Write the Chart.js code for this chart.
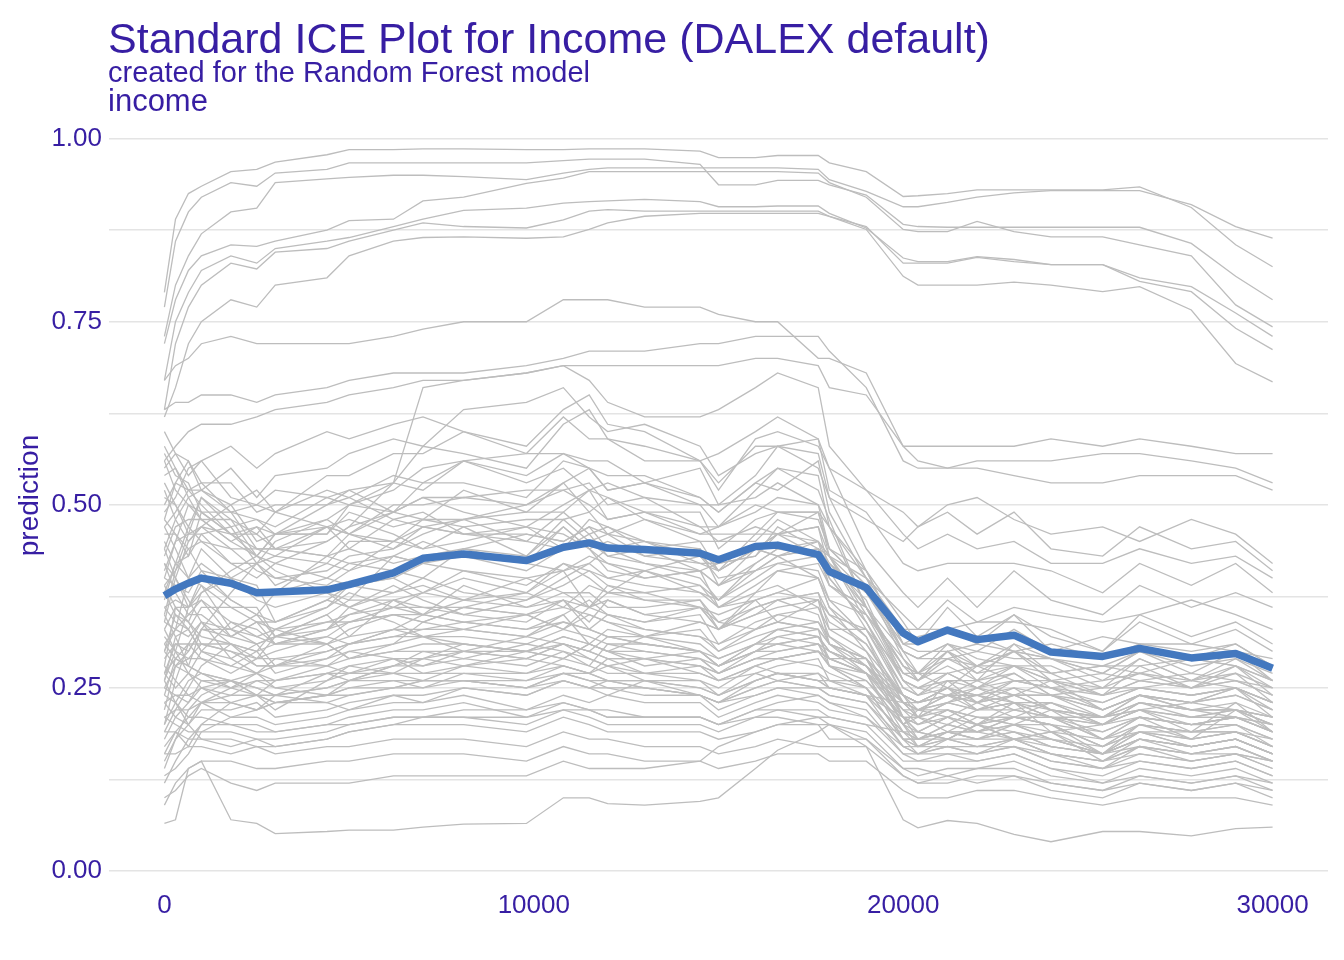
<!DOCTYPE html>
<html lang="en">
<head>
  <meta charset="UTF-8" />
  <title>Standard ICE Plot for Income (DALEX default)</title>
  <script src="https://cdn.jsdelivr.net/npm/chart.js"></script>
  <style>
    body {
      margin: 0; padding: 0; background: #fff;
      font-family: Arial, "Liberation Sans", sans-serif;
    }
    .wrap { position: relative; width: 1344px; height: 960px; }
    .title, .subtitle, .facet {
      position: absolute; left: 108px; margin: 0; color: #371ea3; white-space: nowrap; font-weight: normal;
    }
    .title { top: 17px; font-size: 43px; line-height: 43px; }
    .subtitle { top: 58px; font-size: 29px; line-height: 29px; }
    .facet { top: 85px; font-size: 31px; line-height: 31px; }
    canvas { position: absolute; left: 0; top: 0; }
  </style>
</head>
<body>
  <div class="wrap">
    <canvas id="ice" width="1344" height="960"></canvas>
    <h1 class="title">Standard ICE Plot for Income (DALEX default)</h1>
    <div class="subtitle">created for the Random Forest model</div>
    <div class="facet">income</div>
  </div>

  <script>
    // income values where the profiles were evaluated
    const incomeGrid = [0, 300, 650, 1000, 1800, 2500, 3000, 4400, 5000, 6200,
      7000, 8100, 9800, 10800, 11500, 12000, 13000, 14500, 15000, 16000,
      16600, 17700, 18000, 19000, 20000, 20400, 21200, 22000, 23000, 24000,
      25400, 26400, 27800, 29000, 30000];

    // average profile (blue)
    const meanProfile = [.376,.385,.393,.400,.393, .380,.381,.384,.391,.407,
      .427,.433,.424,.442,.448, .441,.439,.434,.425,.443,
      .445,.432,.409,.387,.325, .313,.329,.316,.322,.299,
      .293,.304,.291,.297,.277];

    // individual observations (grey)
    const iceProfiles = [
      // high group
      [.79,.89,.925,.935,.955, .958,.968,.978,.985,.985, .986,.986,.985,.985,.986, .986,.986,.983,.974,.974, .977,.977,.967,.955,.921, .922,.925,.930,.930,.930, .930,.934,.906,.855,.825],
      [.77,.86,.90,.92,.94, .935,.953,.958,.967,.967, .967,.967,.967,.970,.972, .972,.972,.965,.937,.937, .943,.943,.937,.923,.883, .880,.879,.879,.879,.879, .879,.879,.857,.812,.780],
      [.73,.80,.84,.87,.90, .905,.94,.945,.947,.950, .950,.948,.944,.953,.958, .960,.960,.960,.960,.960, .960,.958,.944,.928,.907, .907,.913,.920,.926,.929, .929,.929,.910,.880,.864],
      [.72,.78,.82,.84,.855, .853,.86,.875,.888,.89, .915,.92,.939,.946,.955, .955,.955,.955,.955,.955, .955,.953,.940,.920,.876, .873,.873,.887,.873,.866, .866,.855,.840,.773,.743],
      [.67,.75,.79,.82,.84, .83,.85,.86,.865,.88, .89,.902,.905,.912,.914, .915,.917,.914,.907,.907, .908,.908,.898,.878,.837, .832,.832,.839,.835,.828, .828,.81,.798,.762,.730],
      [.63,.72,.77,.80,.83, .822,.845,.85,.86,.875, .885,.880,.878,.889,.901, .903,.901,.901,.901,.901, .901,.901,.894,.88,.83, .830,.830,.838,.832,.828, .828,.805,.791,.741,.712],
      [.62,.66,.72,.75,.78, .77,.80,.81,.84,.86, .865,.866,.864,.866,.876, .885,.894,.898,.898,.898, .898,.898,.894,.876,.812, .800,.800,.800,.804,.800, .791,.798,.766,.693,.668],
      // middle group
      [.67,.69,.70,.72,.73, .72,.72,.72,.72,.73, .74,.75,.75,.78,.78, .78,.77,.77,.76,.75, .75,.70,.70,.68,.58, .58,.58,.58,.58,.59, .58,.59,.58,.57,.57],
      [.63,.64,.64,.65,.65, .64,.65,.66,.67,.68, .68,.68,.69,.70,.71, .71,.71,.72,.72,.73, .73,.73,.71,.66,.56, .55,.55,.56,.56,.56, .57,.57,.56,.55,.53],
      [.56,.58,.60,.61,.61, .62,.63,.64,.65,.66, .67,.67,.68,.69,.69, .69,.69,.69,.69,.70, .70,.69,.66,.65,.58, .56,.55,.55,.54,.53, .53,.54,.54,.54,.52],
      [.34,.40,.45,.47,.46, .44,.44,.45,.47,.53, .66,.67,.68,.69,.67, .64,.62,.62,.63,.66, .68,.66,.58,.52,.46, .44,.46,.44,.45,.42, .42,.44,.42,.43,.40],
      // bulk, upper part
      [.55,.57,.54,.56,.58, .55,.57,.60,.59,.61, .62,.60,.58,.63,.65, .61,.60,.56,.57,.60, .62,.59,.55,.52,.49, .47,.50,.51,.48,.46, .47,.45,.48,.46,.42],
      [.50,.53,.56,.52,.55, .51,.54,.55,.57,.59, .58,.63,.64,.66,.62, .60,.61,.58,.54,.57, .58,.55,.51,.48,.45, .47,.49,.46,.49,.44, .43,.47,.44,.45,.41],
      [.47,.49,.52,.53,.49, .48,.46,.50,.52,.53, .58,.57,.55,.61,.63, .59,.58,.56,.52,.59, .60,.58,.55,.44,.38, .36,.40,.36,.41,.37, .35,.39,.36,.38,.36],
      [.53,.50,.47,.51,.48, .46,.49,.52,.51,.54, .53,.56,.57,.57,.56, .56,.53,.55,.50,.54, .58,.57,.51,.41,.31, .32,.33,.31,.35,.32, .30,.35,.32,.34,.31],
      [.44,.48,.51,.52,.50, .45,.46,.46,.50,.49, .53,.53,.51,.56,.55, .54,.54,.51,.49,.53, .52,.56,.49,.40,.35, .33,.37,.34,.36,.35, .34,.35,.37,.35,.33],
      [.41,.45,.46,.51,.47, .48,.47,.51,.50,.53, .52,.56,.53,.55,.52, .53,.51,.50,.47,.52, .55,.52,.48,.36,.28, .26,.30,.26,.31,.27, .28,.28,.29,.28,.26],
      [.49,.51,.55,.56,.51, .50,.52,.51,.52,.49, .51,.51,.52,.52,.53, .50,.51,.47,.47,.49, .51,.50,.44,.39,.30, .27,.31,.29,.28,.28, .25,.29,.26,.28,.25],
      [.37,.42,.43,.49,.46, .46,.44,.47,.46,.49, .48,.52,.49,.53,.55, .52,.53,.50,.50,.51, .53,.50,.47,.41,.34, .31,.36,.32,.35,.30, .32,.31,.31,.30,.29],
      [.56,.52,.50,.49,.46, .47,.46,.47,.46,.50, .50,.51,.50,.53,.49, .51,.49,.49,.44,.48, .49,.49,.43,.40,.33, .33,.33,.34,.34,.33, .30,.34,.31,.33,.30],
      [.43,.47,.48,.48,.48, .43,.46,.46,.49,.47, .48,.48,.49,.49,.52, .48,.49,.46,.46,.46, .49,.49,.47,.36,.26, .25,.26,.26,.27,.24, .25,.25,.26,.25,.23],
      [.39,.41,.46,.46,.47, .42,.43,.42,.45,.45, .48,.47,.48,.48,.49, .46,.48,.45,.45,.45, .48,.45,.43,.34,.24, .21,.26,.23,.24,.24, .21,.24,.22,.22,.21],
      [.51,.50,.46,.47,.44, .44,.43,.47,.44,.48, .47,.48,.45,.49,.46, .47,.44,.45,.41,.46, .46,.49,.44,.41,.31, .30,.30,.31,.30,.29, .27,.30,.27,.30,.26],
      [.57,.54,.53,.49,.49, .44,.44,.43,.46,.45, .47,.46,.46,.45,.47, .44,.45,.42,.42,.43, .47,.44,.43,.35,.29, .26,.30,.27,.30,.26, .27,.26,.27,.26,.25],
      [.46,.46,.43,.46,.42, .42,.39,.42,.41,.45, .44,.47,.43,.48,.45, .46,.43,.44,.39,.44, .43,.44,.39,.36,.27, .27,.27,.28,.28,.27, .24,.28,.25,.28,.24],
      [.60,.57,.56,.53,.53, .49,.50,.50,.51,.48, .49,.46,.47,.44,.45, .43,.44,.41,.42,.43, .46,.43,.42,.36,.30, .29,.29,.30,.29,.29, .26,.29,.26,.29,.26],
      [.48,.53,.52,.52,.49, .50,.49,.54,.54,.57, .57,.60,.57,.62,.59, .59,.56,.56,.53,.58, .58,.59,.52,.49,.42, .41,.42,.42,.42,.41, .38,.42,.39,.42,.38],
      // bulk, middle part
      [.35,.41,.44,.45,.44, .41,.40,.41,.43,.44, .47,.46,.45,.44,.48, .47,.45,.44,.41,.44, .46,.47,.41,.33,.24, .22,.23,.25,.23,.22, .21,.24,.22,.21,.20],
      [.31,.33,.40,.42,.39, .38,.38,.43,.42,.41, .40,.44,.43,.47,.44, .42,.41,.43,.40,.41, .43,.40,.37,.32,.23, .21,.22,.20,.23,.19, .20,.21,.18,.22,.19],
      [.45,.42,.40,.44,.40, .37,.36,.38,.37,.43, .42,.41,.40,.41,.42, .40,.41,.38,.37,.40, .42,.41,.37,.35,.28, .27,.25,.28,.26,.25, .24,.26,.25,.27,.23],
      [.28,.36,.34,.38,.40, .39,.34,.36,.39,.40, .38,.41,.39,.42,.40, .38,.38,.39,.36,.37, .38,.40,.36,.30,.21, .18,.20,.19,.21,.20, .17,.20,.19,.20,.18],
      [.40,.39,.38,.41,.37, .35,.34,.37,.36,.38, .39,.37,.38,.41,.36, .39,.37,.37,.33,.38, .39,.36,.33,.33,.25, .24,.25,.23,.26,.25, .22,.24,.23,.25,.21],
      [.36,.37,.36,.39,.36, .36,.32,.35,.37,.37, .35,.39,.36,.38,.38, .36,.36,.37,.34,.36, .37,.35,.31,.29,.20, .22,.22,.21,.20,.22, .18,.21,.20,.20,.18],
      [.26,.32,.33,.36,.36, .34,.34,.37,.39,.40, .42,.43,.42,.47,.44, .41,.40,.41,.36,.38, .41,.42,.39,.35,.26, .25,.24,.26,.24,.26, .22,.24,.23,.25,.22],
      [.42,.40,.37,.34,.33, .31,.32,.35,.32,.37, .36,.36,.35,.37,.34, .37,.35,.34,.33,.37, .34,.37,.31,.29,.23, .21,.23,.22,.23,.21, .20,.22,.19,.23,.19],
      [.33,.36,.36,.37,.32, .34,.31,.32,.34,.36, .38,.40,.38,.42,.41, .40,.39,.38,.36,.39, .41,.40,.36,.32,.21, .19,.21,.19,.21,.20, .16,.20,.18,.19,.17],
      [.38,.35,.34,.32,.31, .30,.31,.33,.35,.37, .38,.37,.36,.37,.36, .35,.34,.35,.31,.34, .35,.34,.31,.29,.20, .17,.19,.19,.18,.19, .16,.18,.17,.18,.16],
      [.30,.33,.35,.35,.32, .34,.33,.34,.35,.36, .36,.35,.34,.37,.33, .35,.33,.32,.30,.33, .34,.33,.31,.27,.22, .21,.20,.22,.22,.21, .19,.21,.20,.21,.19],
      [.47,.44,.40,.39,.33, .35,.32,.34,.34,.35, .35,.34,.33,.34,.33, .32,.32,.33,.30,.32, .33,.32,.30,.28,.23, .22,.21,.23,.21,.23, .20,.22,.21,.21,.20],
      [.24,.29,.28,.33,.32, .31,.32,.33,.34,.35, .34,.33,.32,.35,.31, .33,.32,.31,.29,.31, .32,.33,.28,.27,.19, .17,.19,.18,.19,.17, .16,.19,.17,.18,.16],
      [.34,.33,.32,.34,.29, .31,.28,.30,.31,.32, .33,.33,.32,.34,.33, .32,.31,.30,.28,.31, .33,.34,.32,.28,.22, .20,.21,.20,.21,.21, .18,.20,.19,.20,.17],
      [.29,.31,.31,.31,.30, .28,.28,.31,.29,.30, .31,.31,.30,.32,.31, .30,.30,.29,.28,.30, .31,.30,.29,.27,.24, .23,.24,.23,.25,.22, .21,.23,.22,.23,.21],
      [.39,.36,.34,.31,.31, .28,.28,.29,.30,.31, .32,.32,.31,.33,.32, .31,.31,.30,.29,.31, .31,.32,.29,.29,.21, .19,.21,.20,.21,.20, .17,.20,.19,.19,.17],
      [.27,.31,.30,.33,.33, .32,.31,.31,.32,.33, .33,.34,.35,.36,.35, .34,.33,.32,.31,.33, .34,.33,.31,.28,.20, .18,.18,.20,.18,.19, .15,.18,.16,.17,.15],
      [.32,.30,.29,.29,.28, .27,.28,.28,.29,.30, .30,.30,.29,.31,.30, .29,.29,.28,.27,.29, .29,.30,.28,.26,.20, .19,.18,.20,.19,.18, .16,.19,.17,.18,.16],
      [.22,.28,.29,.31,.30, .29,.29,.30,.31,.32, .32,.31,.30,.32,.31, .30,.29,.30,.28,.30, .30,.31,.28,.25,.18, .16,.17,.16,.18,.16, .14,.17,.16,.16,.15],
      [.36,.34,.33,.30,.29, .27,.26,.27,.28,.29, .29,.30,.30,.31,.30, .29,.29,.28,.27,.29, .29,.30,.28,.25,.20, .21,.19,.21,.20,.20, .17,.19,.18,.19,.17],
      // bulk, wandering ones
      [.25,.28,.30,.33,.38, .42,.45,.48,.50,.52, .55,.56,.54,.57,.55, .52,.53,.51,.49,.53, .55,.54,.47,.40,.30, .29,.31,.28,.30,.27, .28,.27,.29,.28,.26],
      [.54,.55,.52,.50,.46, .43,.42,.40,.39,.38, .40,.38,.37,.39,.41, .39,.38,.36,.35,.37, .38,.37,.34,.31,.24, .23,.25,.22,.24,.22, .21,.23,.22,.22,.20],
      [.30,.35,.33,.30,.28, .30,.33,.36,.38,.36, .35,.37,.40,.38,.36, .38,.41,.39,.37,.42, .44,.45,.43,.36,.27, .26,.29,.28,.30,.29, .28,.30,.29,.31,.28],
      [.44,.40,.36,.38,.41, .43,.41,.38,.36,.34, .32,.33,.35,.33,.36, .37,.35,.36,.34,.33, .35,.36,.32,.29,.24, .23,.24,.24,.23,.23, .21,.22,.23,.22,.21],
      [.20,.26,.31,.29,.27, .29,.32,.31,.29,.31, .34,.36,.35,.33,.35, .34,.32,.34,.33,.35, .37,.38,.35,.33,.27, .26,.28,.26,.28,.25, .26,.27,.25,.26,.24],
      [.52,.48,.45,.47,.50, .52,.49,.47,.48,.46, .44,.45,.47,.46,.44, .45,.43,.42,.41,.44, .43,.45,.42,.38,.31, .31,.33,.32,.30,.31, .29,.30,.29,.30,.28],
      [.38,.42,.47,.45,.42, .40,.42,.45,.47,.49, .51,.49,.47,.50,.52, .51,.48,.46,.47,.50, .49,.48,.44,.39,.29, .27,.30,.28,.31,.29, .27,.30,.28,.29,.27],
      [.27,.25,.27,.30,.34, .33,.31,.33,.36,.39, .37,.35,.37,.40,.42, .44,.42,.40,.37,.41, .43,.44,.42,.37,.26, .24,.27,.25,.26,.26, .24,.25,.24,.25,.23],
      [.14,.18,.22,.24,.26, .24,.22,.26,.28,.27, .29,.31,.30,.29,.31, .30,.32,.30,.28,.31, .33,.32,.30,.28,.22, .22,.23,.24,.22,.23, .20,.23,.22,.22,.21],
      [.33,.30,.27,.25,.24, .26,.25,.24,.26,.28, .30,.29,.31,.30,.28, .31,.30,.29,.27,.30, .32,.31,.29,.27,.21, .20,.22,.20,.22,.21, .18,.21,.20,.21,.19],
      [.48,.46,.44,.41,.40, .42,.40,.39,.41,.43, .45,.43,.41,.44,.46, .43,.42,.41,.39,.42, .44,.43,.40,.34,.26, .25,.27,.25,.28,.26, .24,.26,.25,.26,.24],
      [.40,.45,.50,.48,.45, .43,.46,.48,.46,.44, .46,.48,.50,.52,.50, .48,.49,.47,.45,.47, .46,.47,.43,.38,.30, .29,.31,.30,.33,.30, .29,.31,.30,.31,.28],
      [.23,.21,.20,.23,.25, .27,.29,.28,.27,.29, .28,.30,.32,.31,.29, .28,.29,.27,.26,.28, .29,.30,.29,.27,.23, .22,.24,.23,.24,.22, .20,.23,.21,.22,.20],
      [.31,.29,.31,.34,.31, .29,.30,.32,.31,.33, .35,.34,.33,.35,.37, .35,.34,.36,.33,.35, .36,.37,.35,.31,.23, .22,.24,.22,.23,.21, .20,.22,.20,.21,.19],
      [.19,.22,.25,.28,.31, .30,.27,.29,.31,.33, .32,.30,.29,.31,.30, .32,.31,.30,.28,.30, .31,.32,.30,.27,.18, .18,.19,.18,.20,.18, .16,.18,.17,.18,.16],
      [.58,.55,.51,.48,.45, .47,.44,.43,.44,.42, .43,.44,.42,.41,.43, .42,.40,.41,.39,.41, .42,.43,.39,.36,.28, .27,.29,.27,.28,.26, .25,.27,.26,.27,.25],
      [.42,.38,.35,.37,.34, .32,.33,.31,.33,.35, .34,.36,.38,.36,.39, .38,.37,.36,.33,.36, .37,.38,.33,.30,.24, .23,.25,.24,.25,.24, .22,.24,.23,.24,.22],
      [.26,.30,.36,.40,.37, .35,.38,.40,.42,.43, .42,.44,.46,.45,.47, .46,.45,.43,.41,.44, .46,.45,.40,.34,.25, .24,.26,.25,.27,.24, .23,.25,.24,.25,.23],
      [.16,.19,.17,.20,.23, .22,.24,.23,.22,.24, .23,.25,.24,.26,.25, .24,.26,.24,.23,.26, .27,.26,.25,.24,.19, .18,.20,.19,.20,.18, .17,.19,.18,.19,.17],
      [.35,.32,.28,.27,.26, .24,.26,.28,.30,.29, .27,.28,.30,.29,.31, .30,.28,.29,.27,.29, .30,.31,.30,.28,.24, .23,.25,.24,.26,.25, .23,.25,.24,.25,.23],
      // bulk, lower part
      [.27,.29,.28,.27,.26, .27,.25,.26,.27,.28, .28,.29,.28,.30,.29, .28,.27,.28,.26,.28, .29,.28,.27,.25,.18, .18,.19,.18,.18,.17, .16,.18,.17,.18,.16],
      [.25,.24,.23,.25,.26, .25,.24,.27,.26,.28, .29,.28,.29,.28,.27, .29,.27,.27,.26,.27, .28,.29,.26,.26,.21, .20,.22,.21,.21,.20, .19,.21,.20,.21,.19],
      [.20,.23,.26,.27,.25, .26,.26,.27,.27,.27, .26,.28,.27,.29,.28, .27,.27,.26,.25,.28, .27,.27,.26,.25,.18, .17,.18,.17,.17,.16, .15,.17,.15,.16,.15],
      [.30,.28,.27,.26,.25, .24,.24,.25,.26,.27, .27,.27,.26,.28,.27, .26,.26,.25,.24,.27, .26,.27,.25,.24,.19, .19,.18,.20,.18,.18, .16,.18,.17,.18,.16],
      [.18,.21,.23,.26,.26, .25,.24,.25,.26,.26, .25,.27,.27,.28,.27, .28,.26,.26,.24,.26, .27,.26,.25,.24,.17, .16,.17,.16,.17,.15, .14,.16,.15,.16,.14],
      [.23,.24,.24,.25,.23, .24,.23,.24,.24,.25, .26,.26,.25,.27,.26, .26,.25,.24,.23,.25, .26,.25,.24,.23,.17, .17,.17,.17,.18,.16, .15,.17,.16,.17,.15],
      [.28,.26,.24,.23,.23, .22,.23,.23,.24,.25, .25,.26,.25,.26,.25, .26,.25,.24,.23,.24, .25,.25,.24,.23,.18, .17,.18,.18,.19,.17, .16,.17,.16,.17,.15],
      [.15,.18,.20,.22,.22, .23,.21,.22,.23,.24, .24,.25,.24,.26,.25, .25,.24,.24,.22,.24, .25,.24,.23,.22,.16, .15,.16,.16,.17,.15, .14,.15,.14,.15,.13],
      [.21,.22,.22,.23,.21, .21,.20,.21,.22,.23, .23,.24,.22,.24,.23, .24,.23,.23,.21,.23, .24,.23,.22,.21,.16, .16,.16,.15,.16,.14, .13,.15,.14,.15,.13],
      [.24,.23,.21,.21,.20, .19,.19,.20,.21,.22, .22,.23,.21,.23,.22, .22,.21,.21,.20,.22, .22,.22,.21,.20,.15, .15,.15,.15,.16,.14, .12,.14,.13,.14,.12],
      [.12,.15,.18,.20,.20, .20,.19,.20,.20,.21, .21,.21,.20,.22,.21, .20,.20,.20,.19,.21, .21,.20,.20,.19,.14, .13,.14,.14,.15,.13, .12,.13,.12,.13,.12],
      [.19,.19,.18,.18,.17, .18,.17,.18,.19,.20, .20,.20,.19,.21,.20, .19,.19,.19,.18,.19, .20,.20,.18,.18,.14, .14,.13,.14,.14,.12, .11,.13,.12,.13,.11],
      [.16,.16,.17,.17,.16, .17,.16,.17,.17,.18, .18,.18,.17,.19,.18, .18,.17,.17,.16,.17, .18,.17,.17,.17,.13, .12,.12,.13,.13,.11, .10,.12,.11,.12,.10],
      [.09,.12,.14,.15,.15, .14,.14,.15,.15,.16, .16,.16,.15,.17,.16, .16,.15,.15,.14,.15, .16,.16,.15,.15,.11, .10,.10,.11,.11,.10, .09,.10,.10,.10,.09],
      [.10,.11,.13,.14,.12, .11,.12,.12,.12,.13, .13,.13,.13,.15,.14, .14,.14,.15,.17,.19, .20,.21,.20,.18,.13, .12,.13,.12,.13,.12, .11,.12,.11,.12,.11],
      [.065,.07,.14,.15,.07, .065,.051,.054,.056,.056, .06,.064,.065,.10,.10, .092,.09,.095,.10,.14, .165,.19,.20,.17,.07, .059,.069,.065,.05,.04, .054,.054,.048,.058,.06],
      [.26,.23,.20,.18,.18, .17,.17,.18,.19,.20, .21,.22,.22,.23,.22, .21,.21,.21,.20,.22, .23,.24,.23,.21,.17, .16,.18,.17,.18,.16, .15,.16,.15,.16,.14],
      [.13,.14,.16,.19,.21, .22,.23,.24,.25,.25, .26,.26,.25,.27,.26, .25,.25,.24,.23,.25, .26,.25,.25,.24,.21, .21,.23,.22,.23,.21, .21,.22,.21,.22,.20],
      [.21,.20,.19,.19,.19, .18,.18,.19,.20,.21, .21,.21,.21,.22,.22, .21,.21,.21,.20,.21, .22,.21,.21,.20,.19, .18,.19,.19,.20,.19, .18,.19,.19,.19,.18],
      [.17,.19,.21,.23,.24, .24,.23,.24,.25,.26, .26,.26,.26,.27,.27, .26,.26,.25,.24,.26, .27,.26,.26,.24,.23, .23,.24,.25,.24,.24, .22,.24,.23,.24,.22]
    ];

    const xTicks = [0, 10000, 20000, 30000];
    const yTicks = [0, 0.125, 0.25, 0.375, 0.5, 0.625, 0.75, 0.875, 1];

    const ink = '#371ea3';
    Chart.defaults.font.family = 'Arial, "Liberation Sans", sans-serif';

    const toPoints = row => row.map((y, i) => ({ x: incomeGrid[i], y: y }));

    const datasets = iceProfiles.map(row => ({
      data: toPoints(row),
      borderColor: '#bdbdbd',
      borderWidth: 1.3,
      pointRadius: 0,
      tension: 0,
      order: 1
    }));
    datasets.push({
      data: toPoints(meanProfile),
      borderColor: '#4378bf',
      borderWidth: 7.5,
      borderJoinStyle: 'round',
      pointRadius: 0,
      tension: 0,
      order: 0
    });

    new Chart(document.getElementById('ice'), {
      type: 'line',
      data: { datasets: datasets },
      options: {
        responsive: false,
        animation: false,
        devicePixelRatio: 1,
        layout: { padding: { left: 0, right: 16, top: 113, bottom: 0 } },
        plugins: { legend: { display: false }, tooltip: { enabled: false } },
        scales: {
          x: {
            type: 'linear',
            min: -1500,
            max: 31500,
            grid: { display: false },
            border: { display: false },
            afterBuildTicks: s => { s.ticks = xTicks.map(v => ({ value: v })); },
            afterFit: s => { s.height = 82; },
            ticks: {
              color: ink, font: { size: 26 }, padding: 4,
              autoSkip: false, maxRotation: 0,
              callback: v => String(v)
            }
          },
          y: {
            min: -0.0095,
            max: 1.035,
            border: { display: false },
            grid: { color: '#e4e4e4', lineWidth: 1.5, drawTicks: false },
            afterBuildTicks: s => { s.ticks = yTicks.map(v => ({ value: v })); },
            afterFit: s => { s.width = 109; },
            ticks: {
              color: ink, font: { size: 26 }, padding: 7, autoSkip: false,
              callback: v => (Math.round(v * 8) % 2 === 0 ? v.toFixed(2) : '')
            },
            title: {
              display: true, text: 'prediction', color: ink,
              font: { size: 28 }, padding: { top: 13, bottom: 0 }
            }
          }
        }
      }
    });
  </script>
</body>
</html>
